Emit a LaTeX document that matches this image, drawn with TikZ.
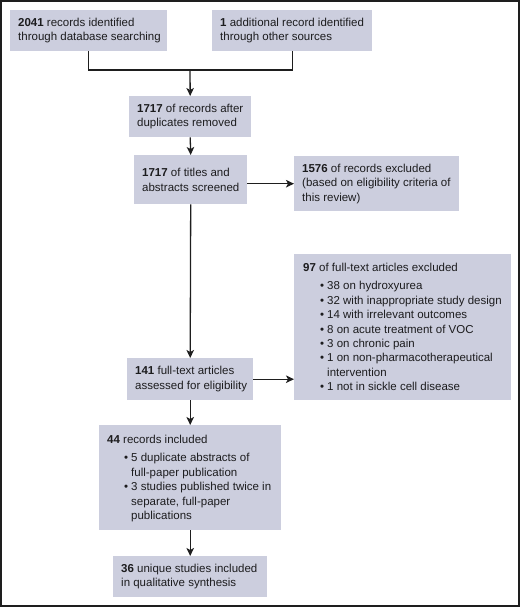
\documentclass[tikz,border=0pt]{standalone}
\usepackage{fontspec}
\setmainfont{Liberation Sans}
\usetikzlibrary{arrows.meta}
\definecolor{boxc}{RGB}{204,206,222}
\definecolor{txtc}{RGB}{28,28,30}
\definecolor{linec}{RGB}{30,30,30}
\newcommand{\bul}{\hspace*{17pt}\makebox[7pt][l]{\textbullet}}
\newcommand{\cont}{\hspace*{24pt}}
\begin{document}
\begin{tikzpicture}[x=1pt,y=-1pt,
  box/.style={fill=boxc, draw=none, inner sep=0pt, anchor=north west},
  txt/.style={anchor=west, inner sep=0pt, align=left, text=txtc,
    font=\fontsize{11.5}{14.4}\selectfont},
  ln/.style={draw=linec, line width=1.3pt},
  arr/.style={ln, -{Stealth[length=8pt,width=7.5pt,inset=2pt]}}]
\useasboundingbox (0,0) rectangle (520,607);
% boxes
\node[box, minimum width=157pt, minimum height=41pt] (A) at (10,10) {};
\node[box, minimum width=160pt, minimum height=41pt] (B) at (212,10) {};
\node[box, minimum width=122pt, minimum height=41pt] (C) at (129,96) {};
\node[box, minimum width=113pt, minimum height=49pt] (D) at (134,155) {};
\node[box, minimum width=165pt, minimum height=55pt] (E) at (294,156) {};
\node[box, minimum width=126pt, minimum height=42pt] (F) at (127,358) {};
\node[box, minimum width=217pt, minimum height=146pt] (G) at (294,254) {};
\node[box, minimum width=182pt, minimum height=105pt] (H) at (99,425) {};
\node[box, minimum width=154pt, minimum height=41pt] (I) at (113,556) {};
% texts
\node[txt] (tA) at ([xshift=8pt]A.west) {\textbf{2041} records identified\\through database searching};
\node[txt] (tB) at ([xshift=8pt]B.west) {\textbf{1} additional record identified\\through other sources};
\node[txt] (tC) at ([xshift=8pt]C.west) {\textbf{1717} of records after\\duplicates removed};
\node[txt] (tD) at ([xshift=8pt]D.west) {\textbf{1717} of titles and\\abstracts screened};
\node[txt] (tE) at ([xshift=8pt]E.west) {\textbf{1576} of records excluded\\(based on eligibility criteria of\\this review)};
\node[txt] (tF) at ([xshift=8pt]F.west) {\textbf{141} full-text articles\\assessed for eligibility};
\node[txt, anchor=north west] (tG) at ([shift={(9,9)}]G.north west) {\textbf{97} of full-text articles excluded\\[4pt]
\bul 38 on hydroxyurea\\
\bul 32 with inappropriate study design\\
\bul 14 with irrelevant outcomes\\
\bul 8 on acute treatment of VOC\\
\bul 3 on chronic pain\\
\bul 1 on non-pharmacotherapeutical\\
\cont intervention\\
\bul 1 not in sickle cell disease};
\node[txt, anchor=north west] (tH) at ([shift={(8,10)}]H.north west) {\textbf{44} records included\\[4pt]
\bul 5 duplicate abstracts of\\
\cont full-paper publication\\
\bul 3 studies published twice in\\
\cont separate, full-paper\\
\cont publications};
\node[txt] (tI) at ([xshift=8pt]I.west) {\textbf{36} unique studies included\\in qualitative synthesis};
% connectors
\coordinate (m) at (190,70);
\draw[ln] (A.south) |- (m) -| (B.south);
\draw[arr] (m) -- (C.north);
\draw[arr] (C.south) -- (D.north);
\draw[arr] (D.east |- E.west) -- (E.west);
\draw[arr] (D.south) -- (F.north);
\draw[arr] (F.east) -- (F.east -| G.west);
\draw[arr] (F.south) -- (H.north);
\draw[arr] (H.south) -- (I.north);
% frame
\draw[draw=linec, line width=2pt] (1,1) rectangle (519,606);
\end{tikzpicture}
\end{document}
